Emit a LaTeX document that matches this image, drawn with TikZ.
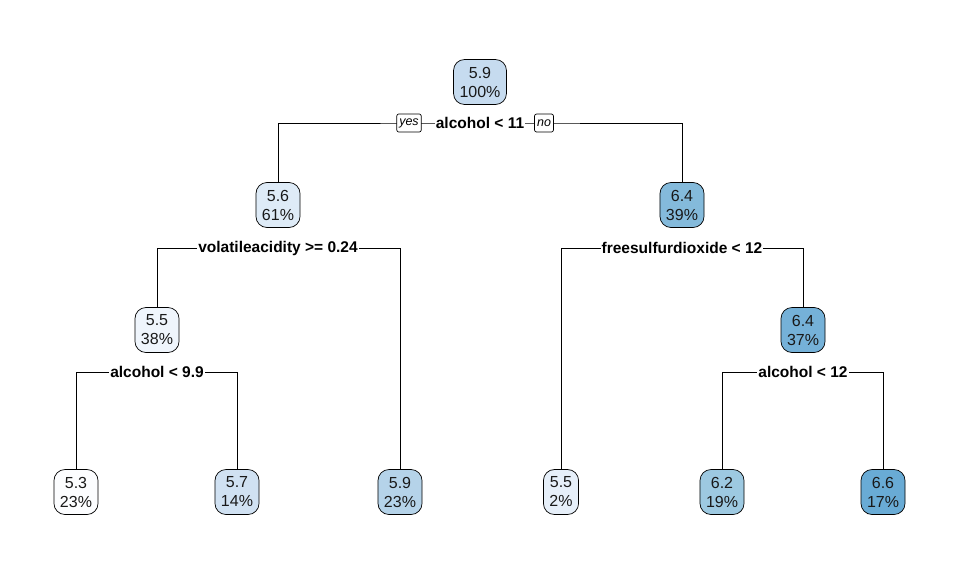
\documentclass[tikz,border=0pt]{standalone}
\usepackage{fontspec}
\setmainfont{Liberation Sans}
\usetikzlibrary{backgrounds}
\definecolor{cA}{HTML}{C6DBEF}
\definecolor{cB}{HTML}{DEEBF7}
\definecolor{cC}{HTML}{EFF5FC}
\definecolor{cD}{HTML}{FCFDFF}
\definecolor{cE}{HTML}{D0E1F2}
\definecolor{cF}{HTML}{B5D3E9}
\definecolor{cG}{HTML}{E6EFF9}
\definecolor{cH}{HTML}{84BADB}
\definecolor{cI}{HTML}{75B1D8}
\definecolor{cJ}{HTML}{9DC9E1}
\definecolor{cK}{HTML}{69ABD5}
\tikzset{
  tnode/.style={draw=black, line width=0.7pt, rounded corners=11pt, align=center,
    font=\fontsize{16}{19}\selectfont, inner xsep=6pt, inner ysep=3pt, minimum height=45pt, text=black!90},
  split/.style={fill=white, inner xsep=1pt, inner ysep=1pt, font=\fontsize{15.5}{17}\selectfont\bfseries},
  yn/.style={draw=black, fill=white, rounded corners=2pt, line width=0.7pt, font=\fontsize{12.5}{14}\selectfont\itshape,
    inner xsep=2.5pt, inner ysep=0pt, minimum height=18pt, text=black},
  edge/.style={line width=0.8pt, black}
}
\begin{document}
\begin{tikzpicture}[x=1pt,y=-1pt]
\useasboundingbox (0,0) rectangle (960,576);
% nodes
\node[tnode, fill=cA] (n1) at (480,82) {5.9\\100\%};
\node[tnode, fill=cB] (n2) at (278,205) {5.6\\61\%};
\node[tnode, fill=cH] (n3) at (682,205) {6.4\\39\%};
\node[tnode, fill=cC] (n4) at (157,330) {5.5\\38\%};
\node[tnode, fill=cI] (n7) at (803,330) {6.4\\37\%};
\node[tnode, fill=cD] (l1) at (76,492) {5.3\\23\%};
\node[tnode, fill=cE] (l2) at (237,492) {5.7\\14\%};
\node[tnode, fill=cF] (l3) at (400,492) {5.9\\23\%};
\node[tnode, fill=cG] (l4) at (561,492) {5.5\\2\%};
\node[tnode, fill=cJ] (l5) at (722,492) {6.2\\19\%};
\node[tnode, fill=cK] (l6) at (883,492) {6.6\\17\%};
% split labels
\node[split] (s1) at (480,123) {alcohol < 11};
\node[yn] (yes) at (409,123) {yes};
\node[yn] (no) at (544,123) {no};
\node[split] (s2) at (278,248) {volatileacidity >= 0.24};
\node[split] (s3) at (682,248) {freesulfurdioxide < 12};
\node[split] (s4) at (157,372) {alcohol < 9.9};
\node[split] (s7) at (803,372) {alcohol < 12};
% connectors
\begin{scope}[on background layer]
\draw[edge] (n2.north) |- (s1.center) -| (n3.north);
\draw[edge] (n4.north) |- (s2.center) -| (l3.north);
\draw[edge] (l4.north) |- (s3.center) -| (n7.north);
\draw[edge] (l1.north) |- (s4.center) -| (l2.north);
\draw[edge] (l5.north) |- (s7.center) -| (l6.north);
\end{scope}
\end{tikzpicture}
\end{document}
